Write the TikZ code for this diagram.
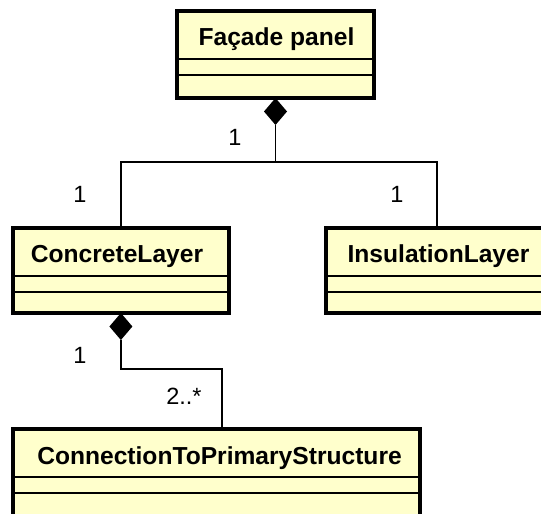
\documentclass[tikz,border=0pt]{standalone}
\usepackage{fontspec}
\setmainfont{Liberation Sans}
\usetikzlibrary{shapes.geometric,calc}
\definecolor{clsfill}{RGB}{255,255,204}
\begin{document}
\begin{tikzpicture}[x=1pt,y=-1pt,
  cls/.style={draw=black, line width=3.4pt, fill=clsfill, rectangle, inner sep=0pt, outer sep=0pt, anchor=north west},
  clsshadow/.style={fill=black!28},
  clsname/.style={font=\fontsize{24.6}{28}\selectfont\bfseries, inner sep=0pt, anchor=base},
  divider/.style={draw=black, line width=1.4pt},
  conn/.style={draw=black, line width=1.5pt},
  comp/.style={diamond, fill=black, draw=none, inner sep=0pt, outer sep=0pt, minimum width=23pt, minimum height=27pt},
  mult/.style={font=\fontsize{23.5}{28}\selectfont, inner sep=0pt, anchor=base}]
\useasboundingbox (0,0) rectangle (541,514);
\clip (0,0) rectangle (541,514);
\fill[white] (0,0) rectangle (541,514);

% shadows
\fill[clsshadow] (179,13) rectangle (376,100);
\fill[clsshadow] (14.8,230) rectangle (231,315);
\fill[clsshadow] (328,230) rectangle (550,315);
\fill[clsshadow] (15,431) rectangle (422,518);

% Facade panel
\node[cls, minimum width=197pt, minimum height=87pt] (facade) at (177,11) {};
\draw[divider] (177,59) -- (374,59);
\draw[divider] (177,75) -- (374,75);
\node[clsname] (facadename) at (276.5,45) {Façade panel};

% ConcreteLayer
\node[cls, minimum width=216.2pt, minimum height=85pt] (concrete) at (12.8,228) {};
\draw[divider] (12.8,276) -- (229,276);
\draw[divider] (12.8,292) -- (229,292);
\node[clsname] (concretename) at (117,262) {ConcreteLayer};

% InsulationLayer
\node[cls, minimum width=222pt, minimum height=85pt] (insulation) at (326,228) {};
\draw[divider] (326,276) -- (548,276);
\draw[divider] (326,292) -- (548,292);
\node[clsname] (insulationname) at (438.5,262) {InsulationLayer};

% ConnectionToPrimaryStructure
\node[cls, minimum width=407pt, minimum height=88pt] (connection) at (13,429) {};
\draw[divider] (13,477) -- (420,477);
\draw[divider] (13,493) -- (420,493);
\node[clsname] (connectionname) at (219.5,464) {ConnectionToPrimaryStructure};

% composition: Facade -> layers
\node[comp, anchor=north] (dia1) at (facade.south) {};
\coordinate (bus) at (0,162);
\draw[conn] (dia1.south) -- (dia1.south |- bus);
\draw[conn] (concrete.north) |- (insulation.north |- bus) -- (insulation.north);

% composition: ConcreteLayer -> Connection
\node[comp, anchor=north] (dia2) at (concrete.south) {};
\coordinate (connTop) at (222,429);
\draw[conn] (dia2.south) |- ($(connTop)+(0,-60)$) -- (connTop);

% multiplicities
\node[mult] (m1) at (235,145) {1};
\node[mult] (m2) at (80,202) {1};
\node[mult] (m3) at (397,202) {1};
\node[mult] (m4) at (80,363) {1};
\node[mult] (m5) at (184,404) {2..*};
\end{tikzpicture}
\end{document}
